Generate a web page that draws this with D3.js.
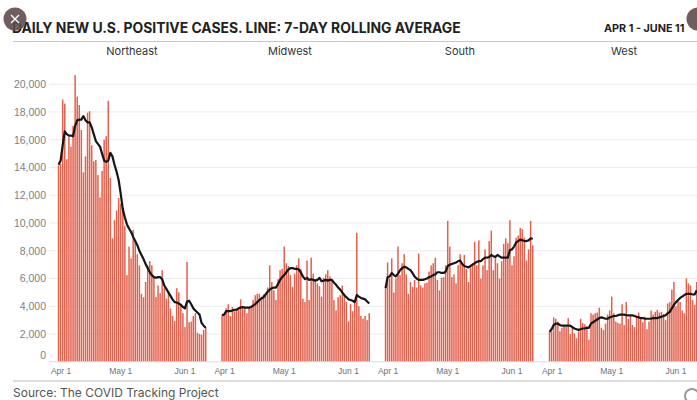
<!DOCTYPE html>
<html>
<head>
<meta charset="utf-8">
<script src="https://d3js.org/d3.v7.min.js"></script>
<style>
  html, body { margin: 0; padding: 0; background: #fff; overflow: hidden; }
  svg { display: block; font-family: Inter, "Noto Sans", sans-serif; }
  .ytick text { fill: #808185; font-size: 10.5px; }
  .xtick text { fill: #6e7180; font-size: 8.5px; }
</style>
</head>
<body>
<svg id="chart" width="697" height="400"></svg>
<script>
// values, Apr 1 - Jun 11 (72 days)
const regions = ["Northeast", "Midwest", "South", "West"];
const yTicks = [0, 2000, 4000, 6000, 8000, 10000, 12000, 14000, 16000, 18000, 20000];
const days = d3.utcDay.range(new Date(Date.UTC(2020, 3, 1)), new Date(Date.UTC(2020, 5, 12)));
const dateTicks = [new Date(Date.UTC(2020, 3, 1)), new Date(Date.UTC(2020, 4, 1)), new Date(Date.UTC(2020, 5, 1))];

const northeastCases = [14150,14250,18900,18600,14600,16200,15500,17000,20650,19100,18500,16700,13650,14800,17950,18050,15600,14450,14550,13450,
  11850,13750,16000,16250,18800,13250,8900,10200,10900,11800,11400,10900,9800,6250,8300,7450,9500,8750,7750,6950,
  4900,4650,5750,6950,7250,6950,6100,4680,5500,4950,6600,5300,4550,5000,3850,3300,2950,5300,5000,4200,
  3500,2500,7200,2850,2900,3300,3500,2100,2000,1950,2300,2500];
const northeastAvg = [14200,14500,15600,16600,16400,16300,16300,16250,17000,17400,17450,17450,17700,17400,17250,17250,16900,16400,15900,15700,
  15500,15000,14500,14400,14500,15050,14800,14200,13700,13100,12100,11000,10400,9900,9600,9350,9000,8700,8400,8000,
  7700,7400,7050,6750,6450,6250,6100,6050,6100,6100,5950,5500,5250,5000,4750,4500,4300,4270,4200,4100,
  3950,3850,4350,4400,4150,3850,3700,3550,3400,2800,2600,2450];

const midwestCases = [3350,3350,3850,4150,3300,3950,3650,3750,3750,4500,4000,3900,3500,3950,4000,4450,4800,4900,4900,4700,
  4850,4850,5350,6950,5750,5150,4450,5950,6600,6700,8300,7100,6900,6250,5400,6350,6950,7450,6700,4550,
  4300,7300,4450,7500,6350,5900,5650,5450,4700,6050,6300,6600,6150,5900,4450,3700,4650,4800,5500,4900,
  4300,2900,4150,3650,4300,9300,4000,3300,3100,3300,3000,3500];
const midwestAvg = [3350,3400,3650,3650,3650,3700,3750,3750,3850,3900,3950,3900,3900,3900,3950,4050,4150,4300,4450,4550,
  4650,4850,5050,5200,5300,5350,5350,5600,5900,6100,6250,6450,6650,6750,6750,6700,6700,6650,6450,6150,
  5950,6050,5900,5950,5900,5850,5900,6050,5800,5850,5900,5850,5900,5900,5700,5550,5350,5200,5000,4800,
  4650,4500,4450,4400,4300,4800,4700,4600,4550,4500,4350,4200];

const southCases = [5300,7150,6000,7450,5000,6000,8300,6250,7100,7750,6300,4900,5750,5400,5900,5350,7800,5500,5350,5650,
  5700,6500,6950,7100,7500,5900,5150,6050,6100,6950,10150,8300,6100,6300,5650,6950,7750,7100,7700,6700,
  5750,6800,7100,8650,6950,8750,6000,6950,8100,6600,8700,9450,6600,7650,7100,6000,7250,8500,8900,8550,
  10200,6950,7600,8950,9100,9650,9550,8950,7300,8100,10150,8400];
const southAvg = [5300,6100,6150,6400,6250,6150,6350,6600,6750,6850,6800,6700,6600,6400,6150,6000,5900,5900,5900,5950,
  6000,6100,6150,6250,6300,6450,6450,6400,6400,6500,6900,7000,7050,7100,7150,7250,7300,7050,6900,6850,
  6800,6900,7000,7100,7200,7250,7250,7400,7500,7500,7550,7700,7600,7550,7700,7600,7500,7500,7500,7500,
  8050,8100,8300,8600,8700,8800,8750,8700,8700,8750,8900,8850];

const westCases = [2150,2200,3200,3100,2900,2200,2450,2550,2500,3150,2000,2550,2050,1700,2200,3100,2800,2700,2550,1600,
  3500,3400,3500,3550,3900,2450,2300,2750,3400,3700,4700,3500,2900,2800,2750,4150,2650,4300,3100,3350,
  2650,2500,3300,3550,3100,2850,3250,2350,2900,3700,3400,3600,3750,3550,3600,3450,3000,4200,4300,5200,
  5750,4000,4400,4300,3700,3500,6000,5650,5500,4450,4100,5750];
const westAvg = [2150,2350,2650,2750,2750,2650,2600,2600,2600,2600,2600,2500,2400,2350,2300,2350,2400,2400,2450,2450,
  2750,2850,2950,3050,3150,3200,3150,3100,3100,3200,3250,3300,3300,3350,3400,3400,3400,3350,3350,3350,
  3350,3300,3250,3200,3150,3150,3100,3100,3100,3100,3150,3150,3150,3200,3250,3300,3350,3500,3600,3850,
  4100,4300,4450,4600,4700,4800,4900,4900,4900,4850,4850,5150];

const casesByRegion = [northeastCases, midwestCases, southCases, westCases];
const avgByRegion = [northeastAvg, midwestAvg, southAvg, westAvg];

const width = 697, height = 400;
const baseY = 361.8, topY = 84.2;   // 0 and 20,000
const step = 2.073, panelStart = [57.5, 221, 384.5, 548.5];
const labelX = [132, 290, 460, 624];

const svg = d3.select("#chart");
const y = d3.scaleLinear().domain([0, 20000]).range([baseY, topY]);

// y axis with gridlines
const yAxis = svg.append("g")
  .attr("class", "ytick")
  .attr("transform", "translate(47,0)")
  .call(d3.axisLeft(y).tickValues(yTicks).tickSize(0).tickPadding(1).tickFormat(d3.format(",")));
yAxis.select(".domain").remove();
yAxis.selectAll(".tick").filter(d => d === 0).select("text").attr("dy", "-0.35em");

svg.append("g").selectAll("line")
  .data(yTicks.filter(d => d > 0))
  .enter().append("line")
    .attr("x1", 49).attr("x2", width)
    .attr("y1", d => y(d)).attr("y2", d => y(d))
    .attr("stroke", "#ebebeb").attr("stroke-width", 1);

// panels
regions.forEach((region, r) => {
  const x = d3.scaleBand().domain(days).range([panelStart[r], panelStart[r] + step * days.length]);
  const g = svg.append("g");

  g.selectAll("rect")
    .data(casesByRegion[r])
    .enter().append("rect")
      .attr("x", (d, i) => x(days[i]) + (x.bandwidth() - 1.5) / 2)
      .attr("width", 1.5)
      .attr("y", d => y(d))
      .attr("height", d => baseY - y(d))
      .attr("fill", "#e4604c");

  const line = d3.line()
    .x((d, i) => x(days[i]) + x.bandwidth() / 2)
    .y(d => y(d));
  g.append("path")
    .datum(avgByRegion[r])
    .attr("d", line)
    .attr("fill", "none")
    .attr("stroke", "#161616")
    .attr("stroke-width", 2.2)
    .attr("stroke-linejoin", "round");

  const xAxis = g.append("g")
    .attr("class", "xtick")
    .attr("transform", "translate(0," + baseY + ")")
    .call(d3.axisBottom(x).tickValues(dateTicks).tickSize(0).tickPadding(6).tickFormat(d3.utcFormat("%b %-d")));
  xAxis.select(".domain").remove();
  xAxis.selectAll(".tick").filter(d => +d === +dateTicks[0]).select("text").attr("dx", 2.5);

  svg.append("text")
    .attr("x", labelX[r]).attr("y", 55)
    .attr("text-anchor", "middle")
    .attr("fill", "#333")
    .style("font-size", "11px")
    .text(region);
});

// baseline and rules
svg.append("line").attr("x1", 49).attr("x2", width).attr("y1", baseY).attr("y2", baseY).attr("stroke", "#dcdcdc");
svg.append("line").attr("x1", 13).attr("x2", width).attr("y1", 41.5).attr("y2", 41.5).attr("stroke", "#c8c8c8");
svg.append("line").attr("x1", 13).attr("x2", width).attr("y1", 381).attr("y2", 381).attr("stroke", "#dedede").attr("stroke-width", 2);

// titles
svg.append("text").attr("x", 12).attr("y", 33)
  .attr("fill", "#222").style("font-size", "13.9px").style("font-weight", 700)
  .text("DAILY NEW U.S. POSITIVE CASES. LINE: 7-DAY ROLLING AVERAGE");
svg.append("text").attr("x", 604).attr("y", 32)
  .attr("fill", "#222").style("font-size", "10.8px").style("font-weight", 700)
  .text("APR 1 - JUNE 11");
svg.append("text").attr("x", 13).attr("y", 397)
  .attr("fill", "#555").style("font-size", "12px")
  .text("Source: The COVID Tracking Project");

// screenshot overlay buttons
const close = svg.append("g").attr("transform", "translate(15,19)");
close.append("circle").attr("r", 11.5).attr("fill", "#5f4c4c").attr("fill-opacity", 0.9);
close.append("path").attr("d", "M-4,-4L4,4M4,-4L-4,4").attr("stroke", "#fff").attr("stroke-width", 1.3);
svg.append("circle").attr("cx", 698).attr("cy", 19).attr("r", 11.5).attr("fill", "#5f4c4c").attr("fill-opacity", 0.9);
svg.append("circle").attr("cx", 692).attr("cy", 396).attr("r", 7).attr("fill", "#fff").attr("stroke", "#999").attr("stroke-width", 2);
</script>
</body>
</html>
